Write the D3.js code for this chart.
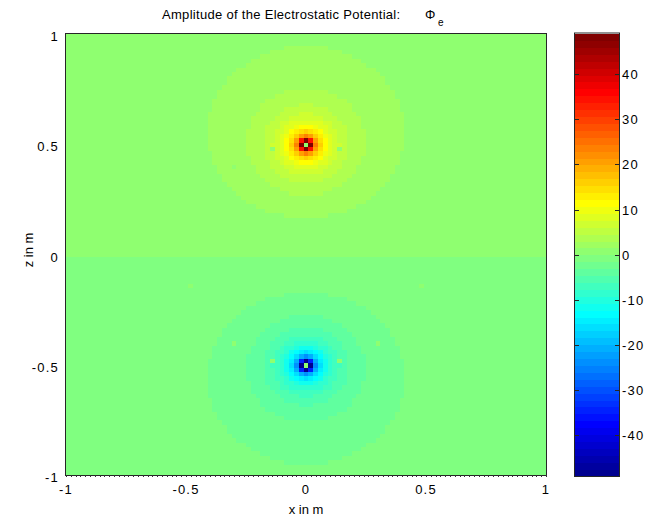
<!DOCTYPE html>
<html>
<head>
<meta charset="utf-8">
<script src="https://cdn.jsdelivr.net/npm/d3@7/dist/d3.min.js"></script>
<style>
  body { margin: 0; background: #fff; }
  text { font-family: "Liberation Sans", Arial, Helvetica, sans-serif; fill: #000; }
</style>
</head>
<body>
<svg id="chart" width="645" height="519"></svg>
<script>
// point charges that make the field (x, z in m, strength)
var chargeX = [0, 0];
var chargeZ = [0.5, -0.5];
var chargeQ = [1, -1];

// sampling grid: 101 x 101 points, step 0.02 m
var gridSteps = 100;

// grid points that show up as 0 in the picture (singular / dropped samples)
var zeroX = [-0.14, 0.14, -0.30, -0.14, 0.14, -0.30, 0.30, -0.48, 0.48];
var zeroZ = [0.48, 0.48, 0.40, -0.48, -0.48, -0.40, -0.40, -0.14, -0.14];

// ticks
var axisTicks = [-1, -0.5, 0, 0.5, 1];
var axisTickLabels = ["-1", "-0.5", "0", "0.5", "1"];
var cbTicks = [-40, -30, -20, -10, 0, 10, 20, 30, 40];
var cbTickLabels = ["-40", "-30", "-20", "-10", "0", "10", "20", "30", "40"];

var svg = d3.select("#chart");

// layout
var plotLeft = 66, plotRight = 546, plotTop = 34, plotBottom = 475;
var cbLeft = 575, cbRight = 619, cbTop = 33.5, cbBottom = 476;

var x = d3.scaleLinear().domain([-1, 1]).range([plotLeft, plotRight]);
var z = d3.scaleLinear().domain([-1, 1]).range([plotBottom, plotTop]);

// matlab jet(64)
function jet(i) {   // i = 1..64
  function u(k) {
    if (k < 1 || k > 47) return 0;
    if (k <= 16) return k / 16;
    if (k <= 31) return 1;
    return (48 - k) / 16;
  }
  return d3.rgb(255 * u(i - 24), 255 * u(i - 8), 255 * u(i + 8)).toString();
}
var jetColors = d3.range(1, 65).map(jet);

function isZeroCell(xv, zv) {
  for (var k = 0; k < zeroX.length; k++) {
    if (Math.abs(zeroX[k] - xv) < 1e-6 && Math.abs(zeroZ[k] - zv) < 1e-6) return true;
  }
  return false;
}

// potential on the grid
var cells = [];
for (var i = 0; i <= gridSteps; i++) {
  for (var j = 0; j <= gridSteps; j++) {
    var xv = (i - gridSteps / 2) / (gridSteps / 2);
    var zv = (j - gridSteps / 2) / (gridSteps / 2);
    var phi = 0, singular = false;
    for (var c = 0; c < chargeQ.length; c++) {
      var r = Math.sqrt((xv - chargeX[c]) * (xv - chargeX[c]) + (zv - chargeZ[c]) * (zv - chargeZ[c]));
      if (r < 1e-9) { singular = true; break; }
      phi += chargeQ[c] / r;
    }
    if (singular || isZeroCell(xv, zv)) phi = 0;
    cells.push({x: xv, z: zv, v: phi});
  }
}

var ext = d3.extent(cells, function(d) { return d.v; });
var cmin = ext[0], cmax = ext[1];

var color = d3.scaleQuantize().domain([cmin, cmax]).range(jetColors);

var half = 1 / gridSteps;   // half a cell in m

svg.append("clipPath").attr("id", "plotclip")
  .append("rect")
    .attr("x", plotLeft).attr("y", plotTop)
    .attr("width", plotRight - plotLeft).attr("height", plotBottom - plotTop);

svg.append("g")
    .attr("clip-path", "url(#plotclip)")
  .selectAll("rect")
  .data(cells)
  .enter().append("rect")
    .attr("x", function(d) { return x(d.x - half); })
    .attr("y", function(d) { return z(d.z + half); })
    .attr("width", x(half) - x(-half) + 0.6)
    .attr("height", z(-half) - z(half) + 0.6)
    .attr("shape-rendering", "crispEdges")
    .attr("fill", function(d) { return color(d.v); });

// frame
svg.append("rect")
    .attr("x", plotLeft - 0.5).attr("y", plotTop - 0.5)
    .attr("width", plotRight - plotLeft + 1).attr("height", plotBottom - plotTop + 1)
    .attr("fill", "none")
    .attr("stroke", "#262626");

// small ticks along the bottom edge, one per grid column
svg.append("g")
  .selectAll("line")
  .data(d3.range(gridSteps + 1))
  .enter().append("line")
    .attr("x1", function(d) { return Math.round(x((d - 50) / 50)) + 0.5; })
    .attr("x2", function(d) { return Math.round(x((d - 50) / 50)) + 0.5; })
    .attr("y1", plotBottom)
    .attr("y2", plotBottom + 2)
    .attr("stroke", "#333");

// x tick labels
svg.append("g")
  .selectAll("text")
  .data(axisTicks)
  .enter().append("text")
    .attr("x", function(d) { return x(d); })
    .attr("y", 494)
    .attr("text-anchor", "middle")
    .style("font-size", "13px")
    .style("letter-spacing", "1.2px")
    .text(function(d, i) { return axisTickLabels[i]; });

// z tick labels
svg.append("g")
  .selectAll("text")
  .data(axisTicks)
  .enter().append("text")
    .attr("x", 59)
    .attr("y", function(d) { return z(d) + 7; })
    .attr("text-anchor", "end")
    .style("font-size", "13px")
    .style("letter-spacing", "1.2px")
    .text(function(d, i) { return axisTickLabels[i]; });

// axis titles
svg.append("text")
    .attr("x", 306).attr("y", 514)
    .attr("text-anchor", "middle")
    .style("font-size", "13px")
    .text("x in m");

svg.append("text")
    .attr("transform", "translate(33,250) rotate(-90)")
    .attr("text-anchor", "middle")
    .style("font-size", "13px")
    .text("z in m");

// title
var title = svg.append("text")
    .attr("x", 162).attr("y", 19)
    .style("font-size", "13px")
    .style("letter-spacing", "0.3px");
title.append("tspan").text("Amplitude of the Electrostatic Potential:");
title.append("tspan").attr("x", 425).text("\u03A6");
title.append("tspan").attr("x", 438).attr("dy", 7).style("font-size", "10px").text("e");

// colorbar
var cb = d3.scaleLinear().domain([cmin, cmax]).range([cbBottom, cbTop]);
var step = (cmax - cmin) / 64;

svg.append("g")
  .selectAll("rect")
  .data(jetColors)
  .enter().append("rect")
    .attr("x", cbLeft)
    .attr("y", function(d, i) { return cb(cmin + (i + 1) * step); })
    .attr("width", cbRight - cbLeft)
    .attr("height", cb(cmin) - cb(cmin + step) + 0.6)
    .attr("shape-rendering", "crispEdges")
    .attr("fill", function(d) { return d; });

svg.append("rect")
    .attr("x", cbLeft - 0.5).attr("y", cbTop - 0.5)
    .attr("width", cbRight - cbLeft + 1).attr("height", cbBottom - cbTop + 1)
    .attr("fill", "none")
    .attr("stroke", "#262626");

var cbt = svg.append("g")
  .selectAll("g")
  .data(cbTicks)
  .enter().append("g")
    .attr("transform", function(d) { return "translate(0," + (Math.round(cb(d)) + 0.5) + ")"; });

cbt.append("line")
    .attr("x1", cbLeft).attr("x2", cbLeft + 4)
    .attr("stroke", "#262626");
cbt.append("line")
    .attr("x1", cbRight - 4).attr("x2", cbRight)
    .attr("stroke", "#262626");
cbt.append("text")
    .attr("x", 622)
    .attr("y", 4.5)
    .style("font-size", "13px")
    .style("letter-spacing", "1.2px")
    .text(function(d, i) { return cbTickLabels[i]; });
</script>
</body>
</html>
